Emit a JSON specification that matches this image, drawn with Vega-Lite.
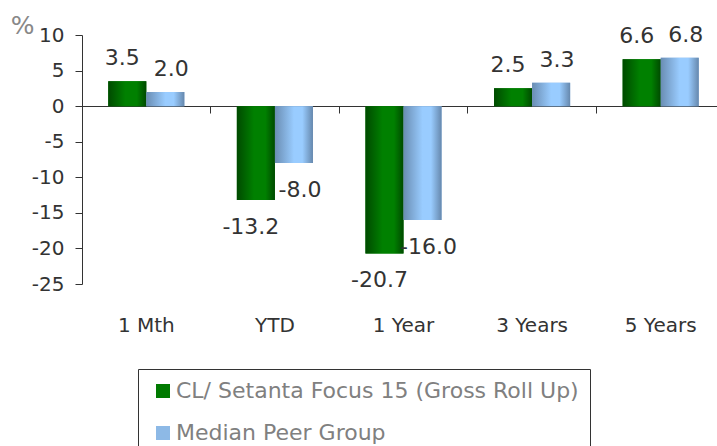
{
  "$schema": "https://vega.github.io/schema/vega-lite/v6.json",
  "width": 643,
  "height": 249,
  "autosize": {"type": "none"},
  "padding": {"left": 82, "top": 35, "right": 0, "bottom": 162},
  "background": "white",
  "config": {
    "font": "DejaVu Sans",
    "view": {"stroke": null},
    "locale": {"number": {"decimal": ".", "thousands": ",", "grouping": [3], "currency": ["$", ""], "minus": "-"}}
  },
  "data": {
    "values": [
      {"cat": "1 Mth", "series": "CL/ Setanta Focus 15 (Gross Roll Up)", "value": 3.5},
      {"cat": "1 Mth", "series": "Median Peer Group", "value": 2.0},
      {"cat": "YTD", "series": "CL/ Setanta Focus 15 (Gross Roll Up)", "value": -13.2},
      {"cat": "YTD", "series": "Median Peer Group", "value": -8.0},
      {"cat": "1 Year", "series": "CL/ Setanta Focus 15 (Gross Roll Up)", "value": -20.7},
      {"cat": "1 Year", "series": "Median Peer Group", "value": -16.0},
      {"cat": "3 Years", "series": "CL/ Setanta Focus 15 (Gross Roll Up)", "value": 2.5},
      {"cat": "3 Years", "series": "Median Peer Group", "value": 3.3},
      {"cat": "5 Years", "series": "CL/ Setanta Focus 15 (Gross Roll Up)", "value": 6.6},
      {"cat": "5 Years", "series": "Median Peer Group", "value": 6.8}
    ]
  },
  "encoding": {
    "xOffset": {"field": "series", "type": "nominal", "sort": ["CL/ Setanta Focus 15 (Gross Roll Up)", "Median Peer Group"], "scale": {"paddingInner": 0, "paddingOuter": 0.69}},
    "y": {
      "field": "value", "type": "quantitative",
      "scale": {"domain": [-25, 10], "nice": false, "zero": false},
      "axis": {"title": "%", "titleAngle": 0, "titleX": -60, "titleY": -10, "titleAlign": "center", "titleBaseline": "middle", "titleFontSize": 25, "titleFontWeight": "normal", "titleColor": "#888888", "values": [-25, -20, -15, -10, -5, 0, 5, 10], "labelExpr": "replace(datum.label, '\u2212', '-')", "tickSize": 7, "tickColor": "#333333", "domainColor": "#333333", "labelFontSize": 20, "labelColor": "#333333", "labelPadding": 11, "grid": false, "labelOverlap": false}
    }
  },
  "resolve": {"axis": {"x": "independent"}},
  "layer": [
    {
      "mark": {"type": "bar"},
      "encoding": {
        "x": {"field": "cat", "type": "nominal", "sort": ["1 Mth", "YTD", "1 Year", "3 Years", "5 Years"], "scale": {"paddingInner": 0, "paddingOuter": 0}, "axis": {"title": null, "orient": "bottom", "domain": false, "ticks": false, "tickSize": 0, "labelAngle": 0, "labelPadding": 41, "labelBaseline": "middle", "labelFontSize": 20, "labelColor": "#333333", "grid": false}},
        "color": {"field": "series", "type": "nominal", "sort": ["CL/ Setanta Focus 15 (Gross Roll Up)", "Median Peer Group"], "scale": {"range": ["#007a00", "#8db9e6"]}, "legend": {"orient": "none", "legendX": 56, "legendY": 334, "title": null, "direction": "vertical", "symbolType": "square", "symbolSize": 196, "symbolStrokeWidth": 0, "symbolOffset": 3, "labelFontSize": 22, "labelColor": "#808080", "labelLimit": 700, "labelOffset": 2, "rowPadding": 20, "padding": 11, "strokeColor": "#333333", "fillColor": "white", "symbolOpacity": 1}}
      }
    },
    {
      "transform": [{"filter": "datum.series === 'CL/ Setanta Focus 15 (Gross Roll Up)'"}],
      "mark": {"type": "bar", "color": {"gradient": "linear", "x1": 0, "x2": 1, "y1": 0, "y2": 0, "stops": [{"offset": 0, "color": "#004a00"}, {"offset": 0.45, "color": "#008000"}, {"offset": 0.75, "color": "#008000"}, {"offset": 1, "color": "#004a00"}]}},
      "encoding": {
        "x": {"field": "cat", "type": "nominal", "sort": ["1 Mth", "YTD", "1 Year", "3 Years", "5 Years"], "axis": {"title": null, "orient": "bottom", "offset": -178, "bandPosition": 0, "labels": false, "ticks": true, "tickSize": 7, "tickColor": "#333333", "domainColor": "#333333", "grid": false}}
      }
    },
    {
      "transform": [{"filter": "datum.series === 'Median Peer Group'"}],
      "mark": {"type": "bar", "color": {"gradient": "linear", "x1": 0, "x2": 1, "y1": 0, "y2": 0, "stops": [{"offset": 0, "color": "#6a8db3"}, {"offset": 0.5, "color": "#99ccff"}, {"offset": 0.72, "color": "#99ccff"}, {"offset": 1, "color": "#6688ad"}]}},
      "encoding": {
        "x": {"field": "cat", "type": "nominal", "sort": ["1 Mth", "YTD", "1 Year", "3 Years", "5 Years"], "axis": null}
      }
    },
    {
      "transform": [{"filter": "datum.series === 'CL/ Setanta Focus 15 (Gross Roll Up)' && datum.value >= 0"}],
      "mark": {"type": "text", "dx": -5, "dy": -23, "baseline": "middle", "fontSize": 22, "color": "#333333"},
      "encoding": {
        "x": {"field": "cat", "type": "nominal", "sort": ["1 Mth", "YTD", "1 Year", "3 Years", "5 Years"], "axis": null},
        "text": {"field": "value", "type": "quantitative", "format": ".1f"}
      }
    },
    {
      "transform": [{"filter": "datum.series === 'Median Peer Group' && datum.value >= 0"}],
      "mark": {"type": "text", "dx": 6, "dy": -23, "baseline": "middle", "fontSize": 22, "color": "#333333"},
      "encoding": {
        "x": {"field": "cat", "type": "nominal", "sort": ["1 Mth", "YTD", "1 Year", "3 Years", "5 Years"], "axis": null},
        "text": {"field": "value", "type": "quantitative", "format": ".1f"}
      }
    },
    {
      "transform": [{"filter": "datum.series === 'CL/ Setanta Focus 15 (Gross Roll Up)' && datum.value < 0"}],
      "mark": {"type": "text", "dx": -5, "dy": 27, "baseline": "middle", "fontSize": 22, "color": "#333333"},
      "encoding": {
        "x": {"field": "cat", "type": "nominal", "sort": ["1 Mth", "YTD", "1 Year", "3 Years", "5 Years"], "axis": null},
        "text": {"field": "value", "type": "quantitative", "format": ".1f"}
      }
    },
    {
      "transform": [{"filter": "datum.series === 'Median Peer Group' && datum.value < 0"}],
      "mark": {"type": "text", "dx": 6, "dy": 27, "baseline": "middle", "fontSize": 22, "color": "#333333"},
      "encoding": {
        "x": {"field": "cat", "type": "nominal", "sort": ["1 Mth", "YTD", "1 Year", "3 Years", "5 Years"], "axis": null},
        "text": {"field": "value", "type": "quantitative", "format": ".1f"}
      }
    }
  ]
}
